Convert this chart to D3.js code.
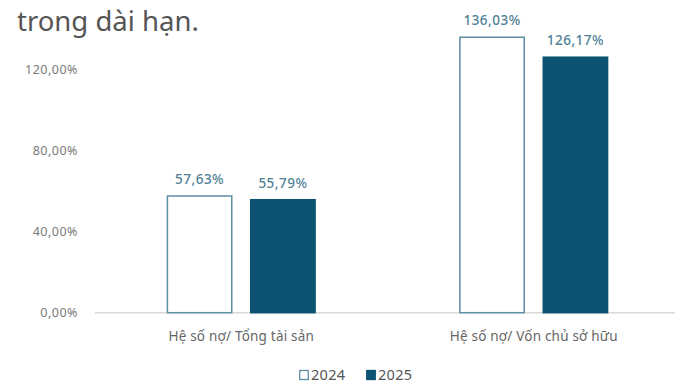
<!DOCTYPE html>
<html>
<head>
<meta charset="utf-8">
<script src="https://cdn.jsdelivr.net/npm/d3@7"></script>
<style>
  html, body { margin: 0; padding: 0; background: #fff; }
  svg { display: block; }
</style>
</head>
<body>
<svg id="chart" width="675" height="383"></svg>
<script>
// Debt ratios, 2024 vs 2025
const categories = ["Hệ số nợ/ Tổng tài sản", "Hệ số nợ/ Vốn chủ sở hữu"];
const seriesNames = ["2024", "2025"];
const values2024 = [57.63, 136.03];
const values2025 = [55.79, 126.17];
const yTicks = [0, 40, 80, 120];
const headline = "trong dài hạn.";

const fmtPct = v => v.toFixed(2).replace(".", ",") + "%";
const FONT = "'Noto Sans', 'DejaVu Sans', sans-serif";

const svg = d3.select("#chart");
const y0 = 312.7;            // baseline pixel
const yTop = y0 - 150 * 2.025;

const x = d3.scaleBand().domain(categories).range([95, 680]).paddingInner(0.49).paddingOuter(0.245);
const xs = d3.scaleBand().domain(seriesNames).range([0, x.bandwidth()]).paddingInner(0.21);
const y = d3.scaleLinear().domain([0, 150]).range([y0, yTop]);

// headline text above the chart
svg.append("text")
  .attr("x", 17).attr("y", 31)
  .attr("font-family", FONT).attr("font-size", 27.5)
  .attr("fill", "#555").text(headline);

// y axis labels (no line)
const yAxis = d3.axisLeft(y).tickValues(yTicks).tickSize(0).tickPadding(0)
  .tickFormat(fmtPct);
const gy = svg.append("g").attr("transform", "translate(78,0)").call(yAxis);
gy.select(".domain").remove();
gy.selectAll("text").attr("font-family", FONT).attr("font-size", 12.5)
  .attr("letter-spacing", 0.5).attr("fill", "#7a7a7a");

// x baseline + category labels
const xAxis = d3.axisBottom(x).tickSize(0).tickPadding(19);
const gx = svg.append("g").attr("transform", `translate(0,${y0})`).call(xAxis);
gx.select(".domain").attr("stroke", "#d9d9d9").attr("stroke-width", 1.5)
  .attr("d", `M95,0H675`);
gx.selectAll("text").attr("font-family", FONT).attr("font-size", 13.5)
  .attr("letter-spacing", 0.2).attr("fill", "#666");

const series = [
  { name: "2024", values: values2024, fill: "#ffffff", stroke: "#5e8ea4" },
  { name: "2025", values: values2025, fill: "#0c5371", stroke: "#0c5371" }
];

series.forEach(s => {
  const g = svg.append("g");
  g.selectAll("rect").data(categories).join("rect")
    .attr("x", c => x(c) + xs(s.name) + 0.75)
    .attr("width", xs.bandwidth() - 1.5)
    .attr("y", (c, i) => y(s.values[i]))
    .attr("height", (c, i) => y0 - y(s.values[i]))
    .attr("fill", s.fill)
    .attr("stroke", s.stroke)
    .attr("stroke-width", 1.5);
  g.selectAll("text").data(categories).join("text")
    .attr("x", c => x(c) + xs(s.name) + xs.bandwidth() / 2)
    .attr("y", (c, i) => y(s.values[i]) - 12)
    .attr("text-anchor", "middle")
    .attr("font-family", FONT).attr("font-size", 13.5).attr("font-weight", 500)
    .attr("letter-spacing", 0.5)
    .attr("fill", "#4f7f95")
    .text((c, i) => fmtPct(s.values[i]));
});

// legend
const legend = svg.append("g").attr("transform", "translate(299,375)");
series.forEach((s, i) => {
  const lg = legend.append("g").attr("transform", `translate(${i * 67},0)`);
  lg.append("rect").attr("x", 0.75).attr("y", -4.5).attr("width", 8.5).attr("height", 9)
    .attr("fill", s.fill).attr("stroke", s.stroke).attr("stroke-width", 1.3);
  lg.append("text").attr("x", 12).attr("y", 0).attr("dy", "0.35em")
    .attr("font-family", FONT).attr("font-size", 14.5).attr("letter-spacing", 0.3)
    .attr("fill", "#555")
    .text(s.name);
});
</script>
</body>
</html>
